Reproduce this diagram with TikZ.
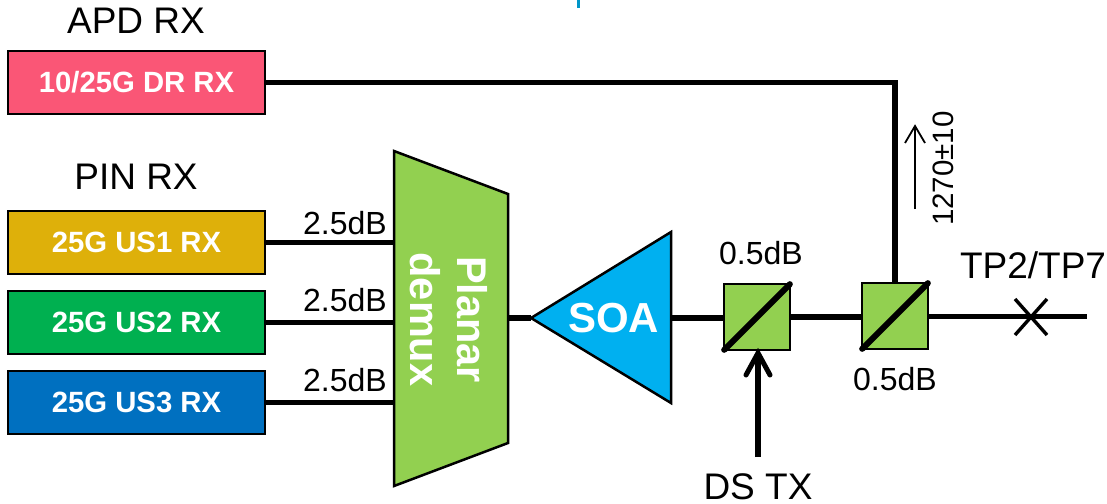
\documentclass[tikz,border=0pt]{standalone}
\usepackage{fontspec}
\setmainfont{Liberation Sans}
\newcommand{\fs}[1]{\fontsize{#1}{#1}\selectfont}
\definecolor{cpink}{HTML}{FA5676}
\definecolor{cgold}{HTML}{DEB00A}
\definecolor{cgreen}{HTML}{00B050}
\definecolor{cblue}{HTML}{0070C0}
\definecolor{clime}{HTML}{92D050}
\definecolor{csoa}{HTML}{00B0F0}
\definecolor{cmark}{RGB}{0,150,200}
\tikzset{
  rxbox/.style={draw=black,line width=2.2pt,minimum width=257pt,minimum height=63pt,inner sep=0pt,text=white,font=\fs{29.3}\bfseries},
  lbl/.style={inner sep=0pt,text=black},
  wire/.style={draw=black,line width=5.5pt},
  shape lime/.style={fill=clime,draw=black,line width=2.5pt,line join=miter},
  splitbox/.style={shape lime,minimum width=66pt,minimum height=66pt,inner sep=0pt},
  split/.style={draw=black,line width=6pt,line cap=round,shorten >=2pt,shorten <=2pt}
}
\begin{document}
\begin{tikzpicture}[x=1pt,y=-1pt]
\useasboundingbox (0,0) rectangle (1107,503);
\coordinate (mka) at (578.5,0);
\coordinate (mkb) at (578.5,8);
\draw[cmark,line width=3pt] (mka) -- (mkb);
% receivers
\node[rxbox,fill=cpink] (dr) at (136.5,82.5) {10/25G DR RX};
\node[rxbox,fill=cgold] (us1) at (136.5,242.5) {25G US1 RX};
\node[rxbox,fill=cgreen] (us2) at (136.5,322.5) {25G US2 RX};
\node[rxbox,fill=cblue] (us3) at (136.5,402.5) {25G US3 RX};
\node[lbl,font=\fs{37}] (apd) at (136,21) {APD RX};
\node[lbl,font=\fs{37}] (pin) at (136,177) {PIN RX};
% demux
\coordinate (d1) at (394,151);
\coordinate (d2) at (508,194);
\coordinate (d3) at (508,443);
\coordinate (d4) at (394,486);
\coordinate (in1) at (394,242.5);
\coordinate (in2) at (394,322.5);
\coordinate (in3) at (394,402.5);
\coordinate (dout) at (508,318);
\draw[wire] (us1.east) -- (in1);
\draw[wire] (us2.east) -- (in2);
\draw[wire] (us3.east) -- (in3);
% SOA
\coordinate (s1) at (531,318);
\coordinate (s2) at (671,232);
\coordinate (s3) at (671,403);
\coordinate (sout) at (671,318);
\draw[wire] (dout) -- (s1);
\path[shape lime] (d1) -- (d2) -- (d3) -- (d4) -- cycle;
\node[lbl,rotate=-90,text=white,align=center,font={\fontsize{41.5}{47}\selectfont\bfseries}] (demux) at (449,319.5) {Planar\\demux};
\path[fill=csoa,draw=black,line width=2.5pt,line join=miter] (s1) -- (s2) -- (s3) -- cycle;
\node[lbl,text=white,font=\fs{42}\bfseries] (soa) at (613.5,318) {SOA};
% splitters
\node[splitbox] (b1) at (757,317) {};
\node[splitbox] (b2) at (895,316) {};
\draw[split] (b1.south west) -- (b1.north east);
\draw[split] (b2.south west) -- (b2.north east);
\coordinate (end) at (1087,316.5);
\coordinate (dssrc) at (758,457);
\coordinate (corner) at (895,82.5);
\draw[wire] (sout) -- (b1.west |- sout);
\draw[wire] (b1.east |- 0,317) -- (b2.west |- 0,317);
\draw[wire] (b2.east |- end) -- (end);
\draw[wire,line join=miter] (dr.east) -- (corner) -- (b2.north);
\coordinate (dstip) at (758,353);
\draw[draw=black,line width=5.5pt] (dssrc) -- (758,357);
\draw[draw=black,line width=5pt,line cap=round,line join=miter] (746,375) -- (dstip) -- (770,375);
% cross
\coordinate (xa) at (1015,299);
\coordinate (xb) at (1047,335);
\coordinate (xc) at (1047,299);
\coordinate (xd) at (1015,335);
\draw[line width=3.4pt] (xa) -- (xb) (xc) -- (xd);
% thin arrow
\coordinate (ta) at (915,209);
\coordinate (tb) at (915,126);
\draw[line width=1.8pt,line join=miter] (ta) -- (tb);
\draw[line width=1.8pt,line join=miter] (905,143) -- (tb) -- (925,143);
\node[lbl,rotate=90,font=\fs{29.5}] (wl) at (943.5,168.5) {1270±10};
% labels
\foreach \n/\y in {l1/223,l2/300,l3/380}{\node[lbl,font=\fs{32}] (\n) at (345,\y) {2.5dB};}
\node[lbl,font=\fs{32}] (l4) at (761,253) {0.5dB};
\node[lbl,font=\fs{32}] (l5) at (895,379) {0.5dB};
\node[lbl,font=\fs{37}] (tp) at (1033,265) {TP2/TP7};
\node[lbl,font=\fs{37}] (ds) at (758,487) {DS TX};
\end{tikzpicture}
\end{document}
